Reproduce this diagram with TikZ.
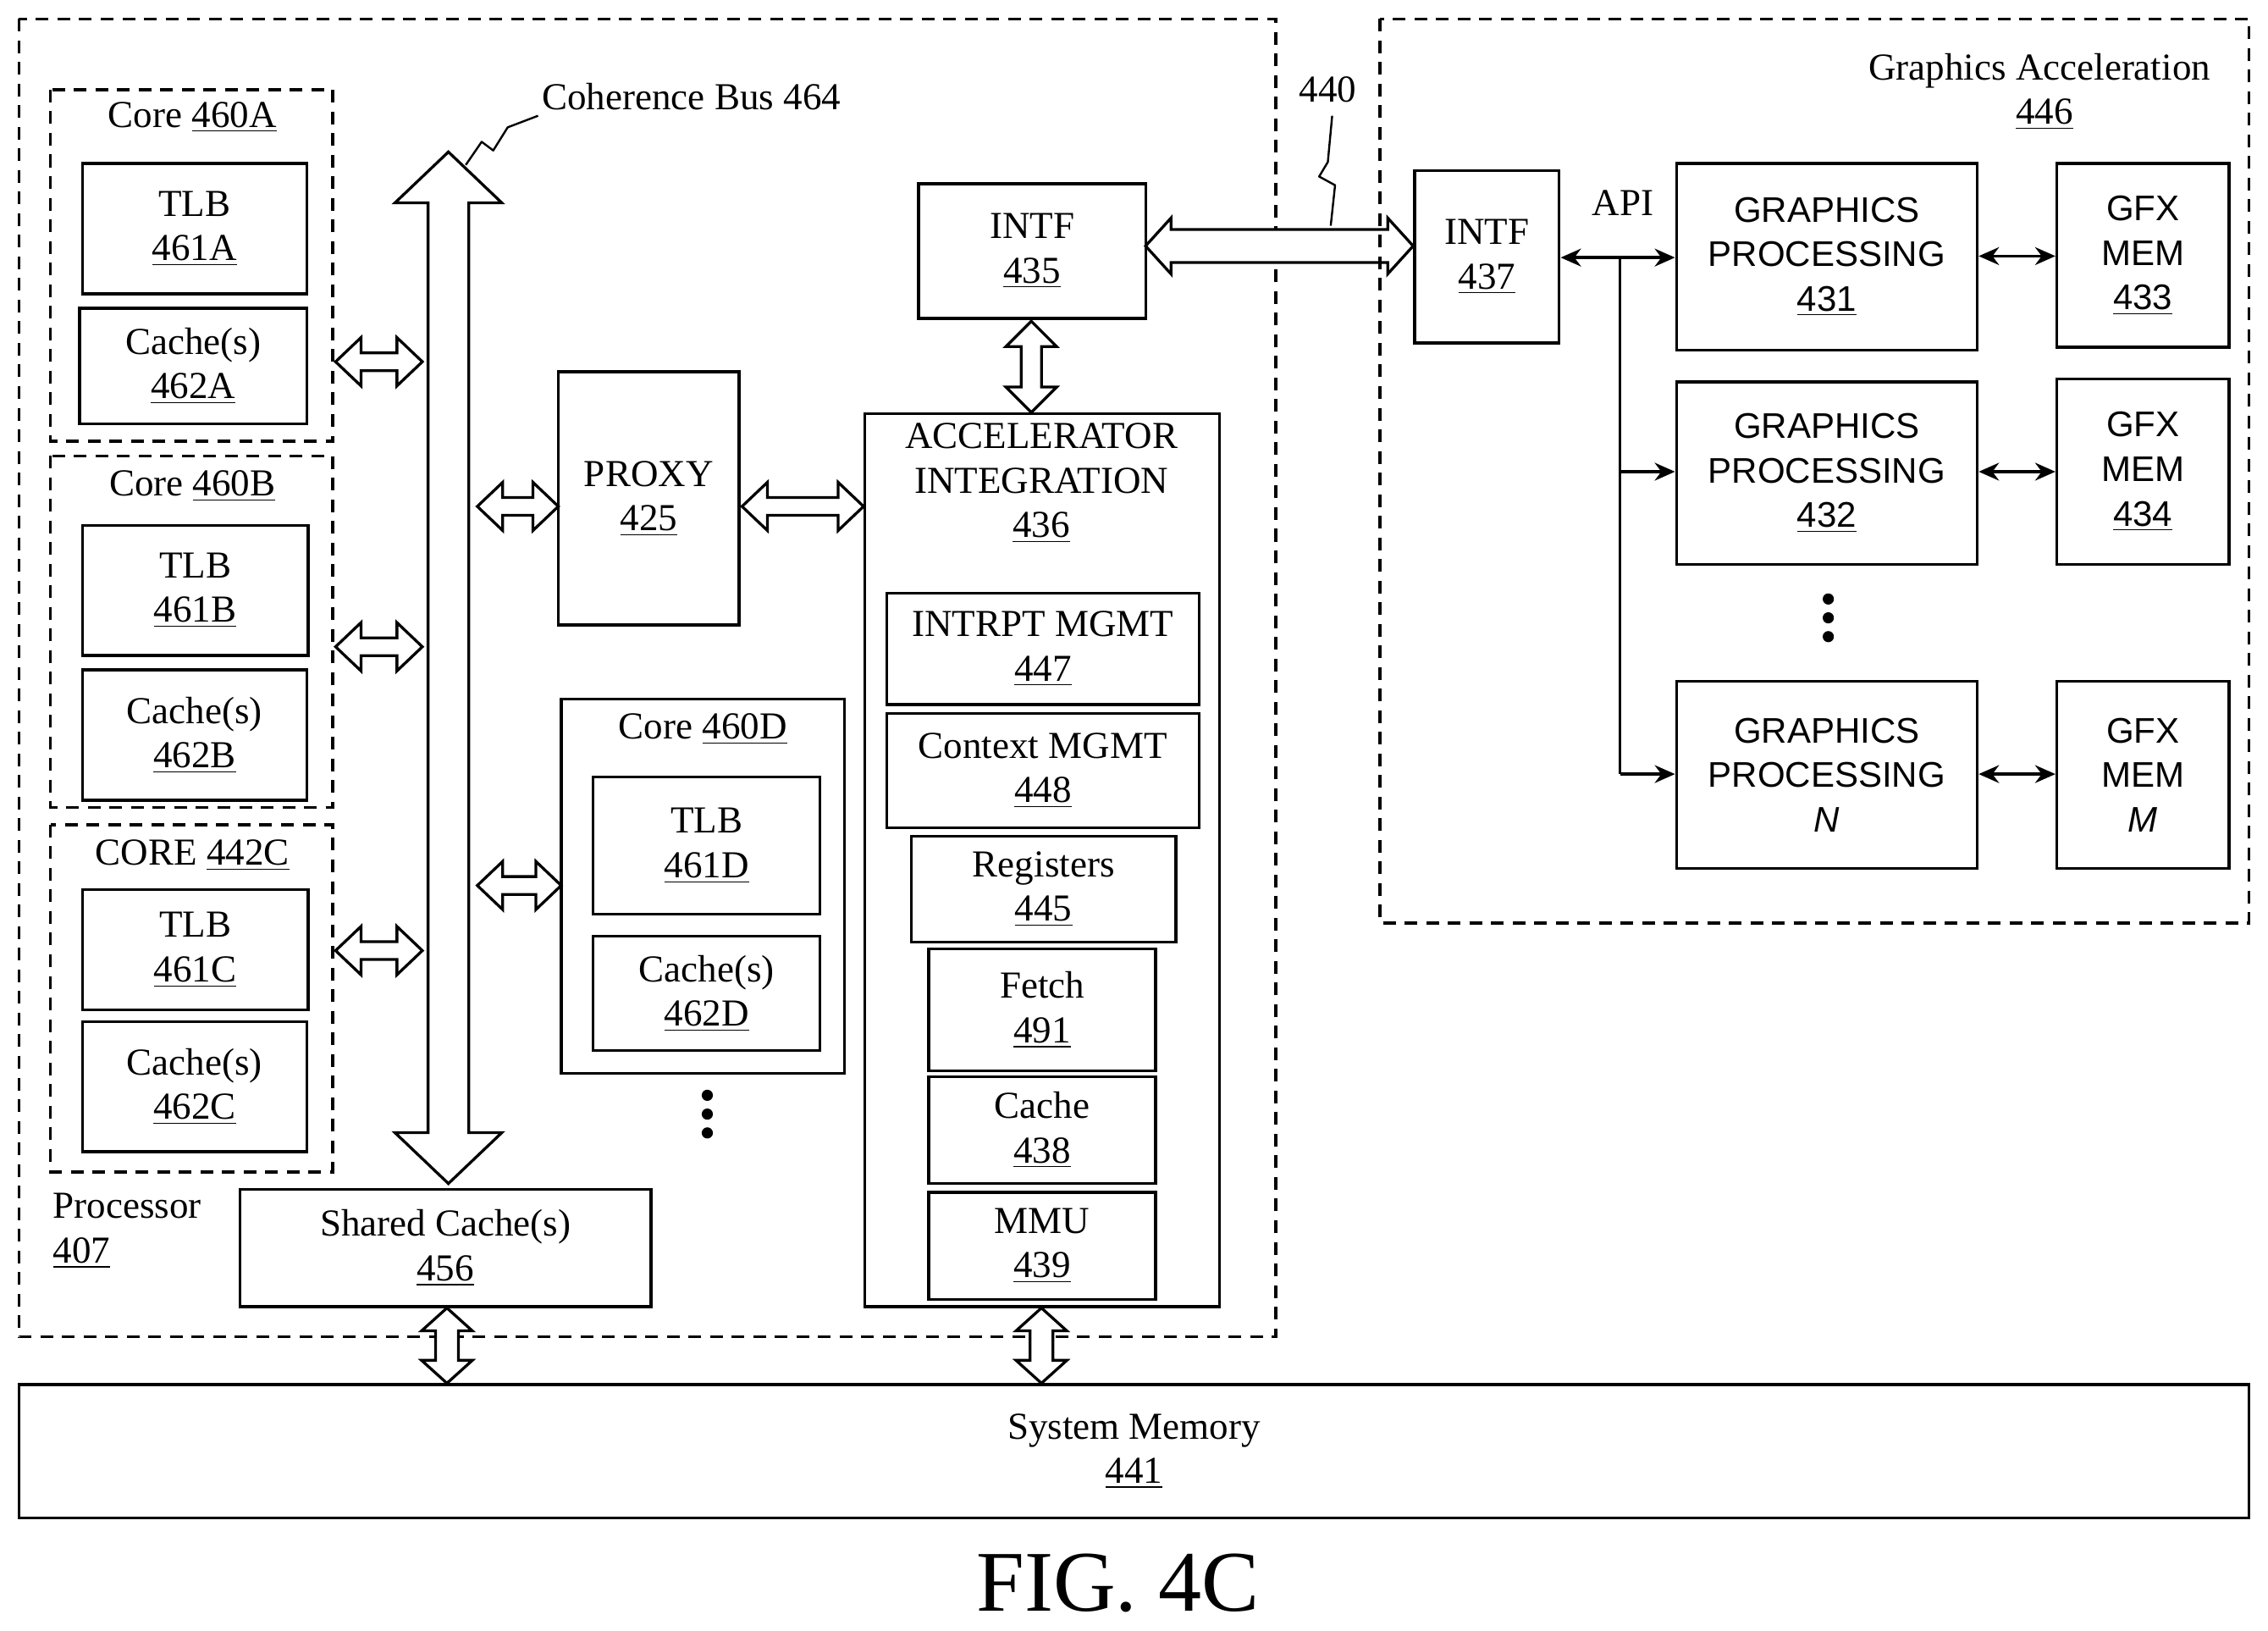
\documentclass[tikz,border=0pt]{standalone}
\usepackage{fontspec}
\setmainfont{Liberation Serif}
\newfontfamily\gfxfont{Liberation Sans}
\usetikzlibrary{calc,arrows.meta}

% block from corner (x1,y1) to corner (x2,y2)
\newcommand\blk[7][]{%
  \node[box,#1,minimum width={(#5-#3)*0.02cm},minimum height={(#6-#4)*0.02cm}]
    (#2) at ({(#3+#5)/2},{(#4+#6)/2}) {#7};}
% hollow double arrows: points, shaft half, head half, head length
\newcommand\hdarrow[5]{%
  \draw[fill=white,line width=1.1pt] let \p1=#1, \p2=#2 in
    (\x1,\y1) -- (\x1+#5,\y1+#4) -- (\x1+#5,\y1+#3) -- (\x2-#5,\y1+#3)
    -- (\x2-#5,\y1+#4) -- (\x2,\y1) -- (\x2-#5,\y1-#4) -- (\x2-#5,\y1-#3)
    -- (\x1+#5,\y1-#3) -- (\x1+#5,\y1-#4) -- cycle;}
\newcommand\vdarrow[5]{%
  \draw[fill=white,line width=1.1pt] let \p1=#1, \p2=#2 in
    (\x1,\y1) -- (\x1+#4,\y1-#5) -- (\x1+#3,\y1-#5) -- (\x1+#3,\y2+#5)
    -- (\x1+#4,\y2+#5) -- (\x1,\y2) -- (\x1-#4,\y2+#5) -- (\x1-#3,\y2+#5)
    -- (\x1-#3,\y1-#5) -- (\x1-#4,\y1-#5) -- cycle;}

\begin{document}
\begin{tikzpicture}[x=0.02cm,y=-0.02cm,line width=1.1pt,
    font=\fontsize{15}{17.5}\selectfont,
    box/.style={draw,inner sep=0pt,align=center},
    dbox/.style={draw,dashed,dash pattern=on 5pt off 3.5pt},
    gfx/.style={font=\gfxfont\fontsize{14}{17.5}\selectfont},
    arr/.style={{Stealth[length=8pt,width=7pt]}-{Stealth[length=8pt,width=7pt]}}]
  \useasboundingbox (0,0) rectangle (1568,1127);

  % processor
  \draw[dbox] (13,13) rectangle (882,924);
  \node[align=left,anchor=north west] (proc) at (30,818) {Processor\\\underline{407}};

  \draw[dbox] (35,62) rectangle (230,305);
  \node (c460a) at (133,81) {Core \underline{460A}};
  \blk{tlb461a}{57}{113}{212}{203}{TLB\\\underline{461A}}
  \blk{ca462a}{55}{213}{212}{293}{Cache(s)\\\underline{462A}}

  \draw[dbox] (35,315) rectangle (230,558);
  \node (c460b) at (133,336) {Core \underline{460B}};
  \blk{tlb461b}{57}{363}{213}{453}{TLB\\\underline{461B}}
  \blk{ca462b}{57}{463}{212}{553}{Cache(s)\\\underline{462B}}

  \draw[dbox] (35,570) rectangle (230,810);
  \node (c442c) at (133,591) {CORE \underline{442C}};
  \blk{tlb461c}{57}{615}{213}{698}{TLB\\\underline{461C}}
  \blk{ca462c}{57}{706}{212}{796}{Cache(s)\\\underline{462C}}

  % coherence bus
  \coordinate (cbtop) at (310,105);
  \coordinate (cbbot) at (310,818);
  \vdarrow{(cbtop)}{(cbbot)}{8pt}{21pt}{20pt}
  \node[anchor=west] (cblabel) at (368,67) {Coherence Bus 464};
  \draw[line width=0.8pt,line join=round] (322,114) -- (333,98) -- (341,104) -- (351,88) -- (372,80);

  \hdarrow{(232,250)}{(292,250)}{3.5pt}{9.5pt}{10pt}
  \hdarrow{(232,447)}{(292,447)}{3.5pt}{9.5pt}{10pt}
  \hdarrow{(232,657)}{(292,657)}{3.5pt}{9.5pt}{10pt}

  \blk{proxy}{386}{257}{511}{432}{PROXY\\\underline{425}}
  \hdarrow{(330,350)}{(386,350)}{3.5pt}{9.5pt}{10pt}
  \hdarrow{(513,350)}{(597,350)}{3.5pt}{9.5pt}{10pt}

  \blk{c460d}{388}{483}{584}{742}{}
  \node (c460dl) at (486,504) {Core \underline{460D}};
  \blk{tlb461d}{410}{537}{567}{632}{TLB\\\underline{461D}}
  \blk{ca462d}{410}{647}{567}{726}{Cache(s)\\\underline{462D}}
  \hdarrow{(330,612)}{(388,612)}{3.5pt}{9.5pt}{10pt}
  \foreach \y in {757,770,783} \fill (489,\y) circle (2.2pt);

  \blk{sc456}{166}{822}{450}{903}{Shared Cache(s)\\\underline{456}}

  % accelerator integration
  \blk{intf435}{635}{127}{792}{220}{INTF\\\underline{435}}
  \draw (598,286) rectangle (843,903);
  \node[align=center] (ai436) at (720,334) {ACCELERATOR\\INTEGRATION\\\underline{436}};
  \vdarrow{(713,222)}{(713,285)}{4pt}{10pt}{10pt}
  \blk{im447}{613}{410}{829}{487}{INTRPT MGMT\\\underline{447}}
  \blk{cm448}{613}{493}{829}{572}{Context MGMT\\\underline{448}}
  \blk{reg445}{630}{578}{813}{651}{Registers\\\underline{445}}
  \blk{fe491}{642}{656}{799}{740}{Fetch\\\underline{491}}
  \blk{ca438}{642}{744}{799}{818}{Cache\\\underline{438}}
  \blk{mmu439}{642}{824}{799}{898}{MMU\\\underline{439}}

  % link 440
  \hdarrow{(792,170)}{(977,170)}{6.5pt}{11pt}{10pt}
  \node (l440) at (918,62) {440};
  \draw[line width=0.8pt,line join=round] (921,80) -- (918,112) -- (912,122) -- (923,128) -- (920,156);

  % graphics acceleration
  \draw[dbox] (954,13) rectangle (1555,638);
  \node[align=right,anchor=north east] (ga446) at (1535,30) {Graphics Acceleration\\\underline{446}\hspace*{3.6em}};
  \blk{intf437}{978}{118}{1078}{237}{INTF\\\underline{437}}
  \node (api) at (1122,140) {API};
  \blk[gfx]{gp431}{1159}{113}{1367}{242}{GRAPHICS\\PROCESSING\\\underline{431}}
  \blk[gfx]{gp432}{1159}{264}{1367}{390}{GRAPHICS\\PROCESSING\\\underline{432}}
  \blk[gfx]{gpn}{1159}{471}{1367}{600}{GRAPHICS\\PROCESSING\\\textit{N}}
  \blk[gfx]{gm433}{1422}{113}{1541}{240}{GFX\\MEM\\\underline{433}}
  \blk[gfx]{gm434}{1422}{262}{1541}{390}{GFX\\MEM\\\underline{434}}
  \blk[gfx]{gmm}{1422}{471}{1541}{600}{GFX\\MEM\\\textit{M}}
  \coordinate (api-br) at (1120,178);
  \draw[arr] (intf437.east |- api-br) -- (gp431.west |- api-br);
  \draw (api-br) -- (1120,535);
  \draw[-{Stealth[length=8pt,width=7pt]}] (1120,326) -- (gp432.west |- 0,326);
  \draw[-{Stealth[length=8pt,width=7pt]}] (1120,535) -- (gpn.west |- 0,535);
  \draw[arr] (gp431.east |- 0,177) -- (gm433.west |- 0,177);
  \draw[arr] (gp432.east |- 0,326) -- (gm434.west |- 0,326);
  \draw[arr] (gpn.east |- 0,535) -- (gmm.west |- 0,535);
  \foreach \y in {414,427,440} \fill (1264,\y) circle (2.2pt);

  % system memory
  \blk{sm441}{13}{957}{1555}{1049}{System Memory\\\underline{441}}
  \vdarrow{(309,904)}{(309,956)}{4.5pt}{10pt}{9pt}
  \vdarrow{(720,904)}{(720,956)}{4.5pt}{10pt}{9pt}

  \node[font=\fontsize{34}{38}\selectfont] (fig) at (773,1094) {FIG. 4C};
\end{tikzpicture}
\end{document}
